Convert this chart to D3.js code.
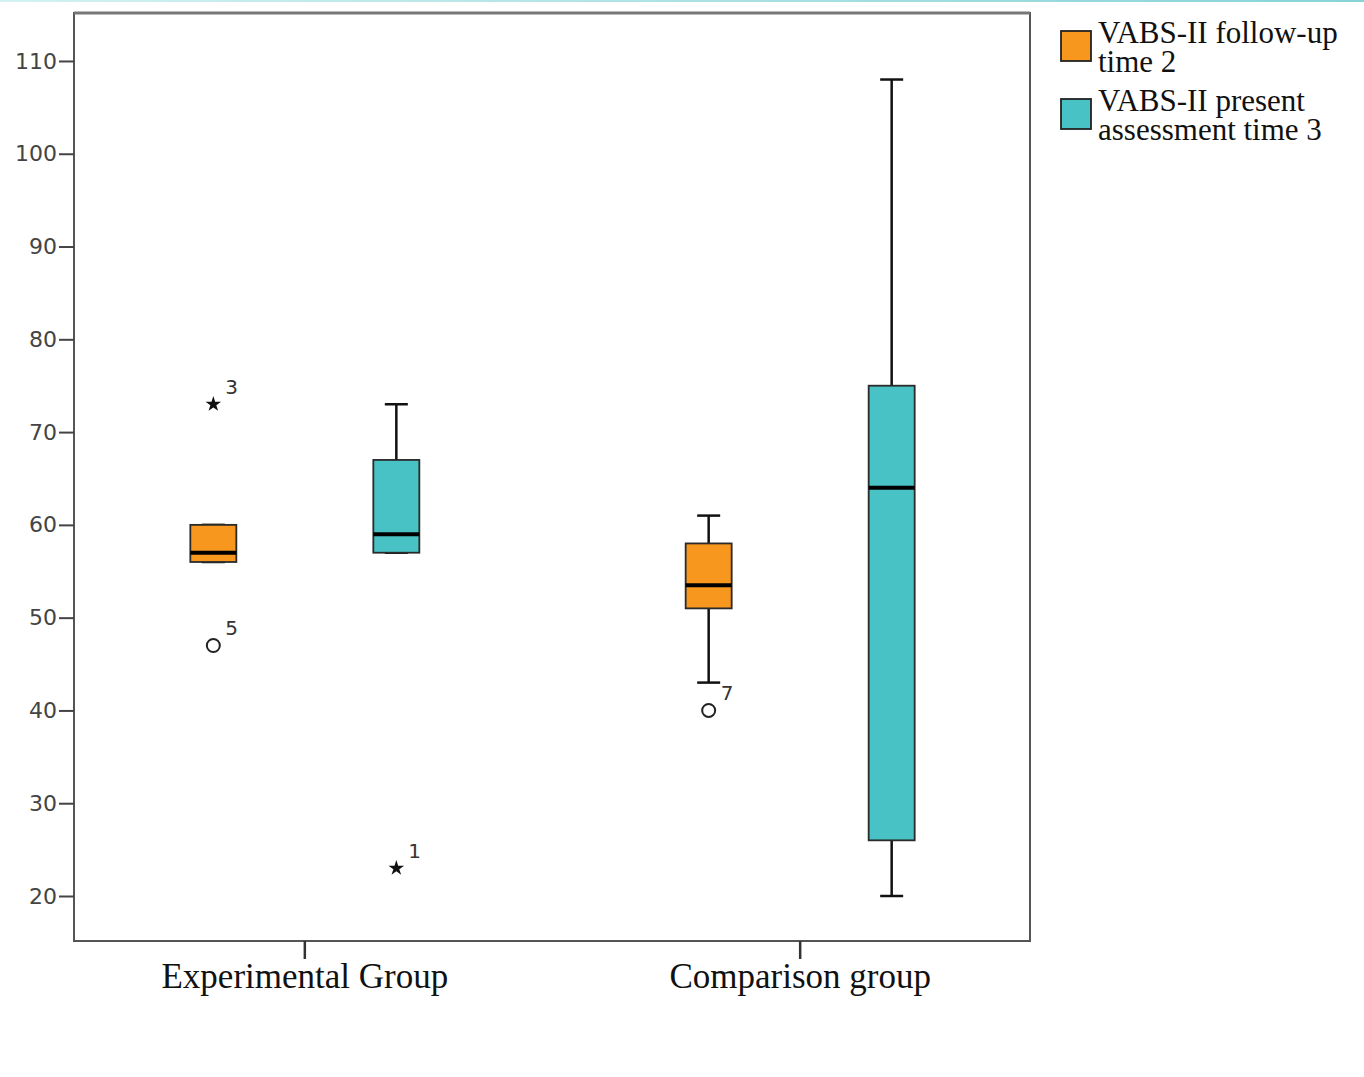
<html>
  <head>
    <script src="https://d3js.org/d3.v7.min.js"></script>
  </head>
  <body style="margin:0; background:#fff;">
    <svg width="1364" height="1077"></svg>
    <script>
    // data
    var groups = ["Experimental Group", "Comparison group"];
    var seriesNames = ["VABS-II follow-up time 2", "VABS-II present assessment time 3"];
    var seriesColors = ["#f7971e", "#48c2c5"];
    var yTicks = [20, 30, 40, 50, 60, 70, 80, 90, 100, 110];
    // [group, series, whiskerLow, q1, median, q3, whiskerHigh]
    var boxes = [
      [0, 0, 56, 56, 57, 60, 60],
      [0, 1, 57, 57, 59, 67, 73],
      [1, 0, 43, 51, 53.5, 58, 61],
      [1, 1, 20, 26, 64, 75, 108]
    ];
    // [group, series, value, kind, label]
    var outliers = [
      [0, 0, 73, "star", "3"],
      [0, 0, 47, "circle", "5"],
      [0, 1, 23, "star", "1"],
      [1, 0, 40, "circle", "7"]
    ];

    var svg = d3.select("svg");
    var plotL = 74, plotR = 1030, plotT = 13, plotB = 941;

    // thin teal strip along the top edge
    var grad = svg.append("defs").append("linearGradient").attr("id", "strip");
    grad.append("stop").attr("offset", "0%").attr("stop-color", "#d3f1f2");
    grad.append("stop").attr("offset", "100%").attr("stop-color", "#86d3d6");
    svg.append("rect").attr("x", 0).attr("y", 0).attr("width", 1364).attr("height", 2).attr("fill", "url(#strip)");

    var y = d3.scaleLinear().domain([15.15, 115.17]).range([plotB, plotT]);
    var x = d3.scalePoint().domain(groups).range([plotL, plotR]).padding(0.465);
    var offset = d3.scaleOrdinal().domain([0, 1]).range([-91, 92]);
    var boxW = 46, capW = 23;

    // frame
    svg.append("rect")
      .attr("x", plotL).attr("y", plotT)
      .attr("width", plotR - plotL).attr("height", plotB - plotT)
      .attr("fill", "none").attr("stroke", "#555").attr("stroke-width", 2);
    svg.append("line").attr("x1", plotL).attr("x2", plotR).attr("y1", plotT).attr("y2", plotT)
      .attr("stroke", "#777").attr("stroke-width", 3);

    // y axis
    var yAxis = svg.append("g")
      .attr("transform", "translate(" + plotL + ",0)")
      .call(d3.axisLeft(y).tickValues(yTicks).tickSize(15).tickPadding(2).tickFormat(d3.format("d")));
    yAxis.select(".domain").remove();
    yAxis.selectAll(".tick line").attr("stroke", "#444").attr("stroke-width", 2);
    yAxis.selectAll("text")
      .attr("font-family", "DejaVu Sans").attr("font-size", 22).attr("fill", "#444");

    // x axis
    var xAxis = svg.append("g")
      .attr("transform", "translate(0," + plotB + ")")
      .call(d3.axisBottom(x).tickSize(18).tickPadding(4));
    xAxis.select(".domain").remove();
    xAxis.selectAll(".tick line").attr("stroke", "#333").attr("stroke-width", 2.5);
    xAxis.selectAll("text")
      .attr("font-family", "Liberation Serif").attr("font-size", 35).attr("fill", "#111");

    // boxes
    var bx = function(d) { return x(groups[d[0]]) + offset(d[1]); };
    var g = svg.append("g").selectAll("g").data(boxes).enter().append("g");
    g.append("line")
      .attr("x1", bx).attr("x2", bx)
      .attr("y1", function(d) { return y(d[2]); }).attr("y2", function(d) { return y(d[6]); })
      .attr("stroke", "#111").attr("stroke-width", 2.5);
    g.selectAll(".cap").data(function(d) { return [[d, d[2]], [d, d[6]]]; }).enter().append("line")
      .attr("x1", function(c) { return bx(c[0]) - capW / 2; })
      .attr("x2", function(c) { return bx(c[0]) + capW / 2; })
      .attr("y1", function(c) { return y(c[1]); }).attr("y2", function(c) { return y(c[1]); })
      .attr("stroke", "#111").attr("stroke-width", 2.5);
    g.append("rect")
      .attr("x", function(d) { return bx(d) - boxW / 2; })
      .attr("width", boxW)
      .attr("y", function(d) { return y(d[5]); })
      .attr("height", function(d) { return y(d[3]) - y(d[5]); })
      .attr("fill", function(d) { return seriesColors[d[1]]; })
      .attr("stroke", "#2a2a2a").attr("stroke-width", 1.8);
    g.append("line")
      .attr("x1", function(d) { return bx(d) - boxW / 2; })
      .attr("x2", function(d) { return bx(d) + boxW / 2; })
      .attr("y1", function(d) { return y(d[4]); }).attr("y2", function(d) { return y(d[4]); })
      .attr("stroke", "#000").attr("stroke-width", 4);

    // outliers
    var o = svg.append("g").selectAll("g").data(outliers).enter().append("g")
      .attr("transform", function(d) { return "translate(" + bx(d) + "," + y(d[2]) + ")"; });
    o.filter(function(d) { return d[3] === "circle"; }).append("circle")
      .attr("r", 6.5).attr("fill", "none").attr("stroke", "#222").attr("stroke-width", 2);
    o.filter(function(d) { return d[3] === "star"; }).append("path")
      .attr("d", d3.symbol().type(d3.symbolStar).size(75))
      .attr("fill", "#111");
    o.append("text")
      .attr("x", 12).attr("y", -10)
      .attr("font-family", "DejaVu Sans").attr("font-size", 20).attr("fill", "#333")
      .text(function(d) { return d[4]; });

    // legend
    var legendLines = [["VABS-II follow-up", "time 2"], ["VABS-II present", "assessment time 3"]];
    var lg = svg.append("g").selectAll("g").data(seriesNames).enter().append("g")
      .attr("transform", function(d, i) { return "translate(1061," + (31 + i * 68) + ")"; });
    lg.append("rect").attr("width", 30).attr("height", 30)
      .attr("fill", function(d, i) { return seriesColors[i]; })
      .attr("stroke", "#222").attr("stroke-width", 1.8);
    lg.append("text")
      .attr("font-family", "Liberation Serif").attr("font-size", 31).attr("fill", "#111")
      .attr("transform", "translate(37,0)")
      .selectAll("tspan").data(function(d, i) { return legendLines[i]; }).enter().append("tspan")
      .attr("x", 0).attr("y", function(t, j) { return 12 + j * 29; })
      .text(function(t) { return t; });
    </script>
  </body>
</html>
